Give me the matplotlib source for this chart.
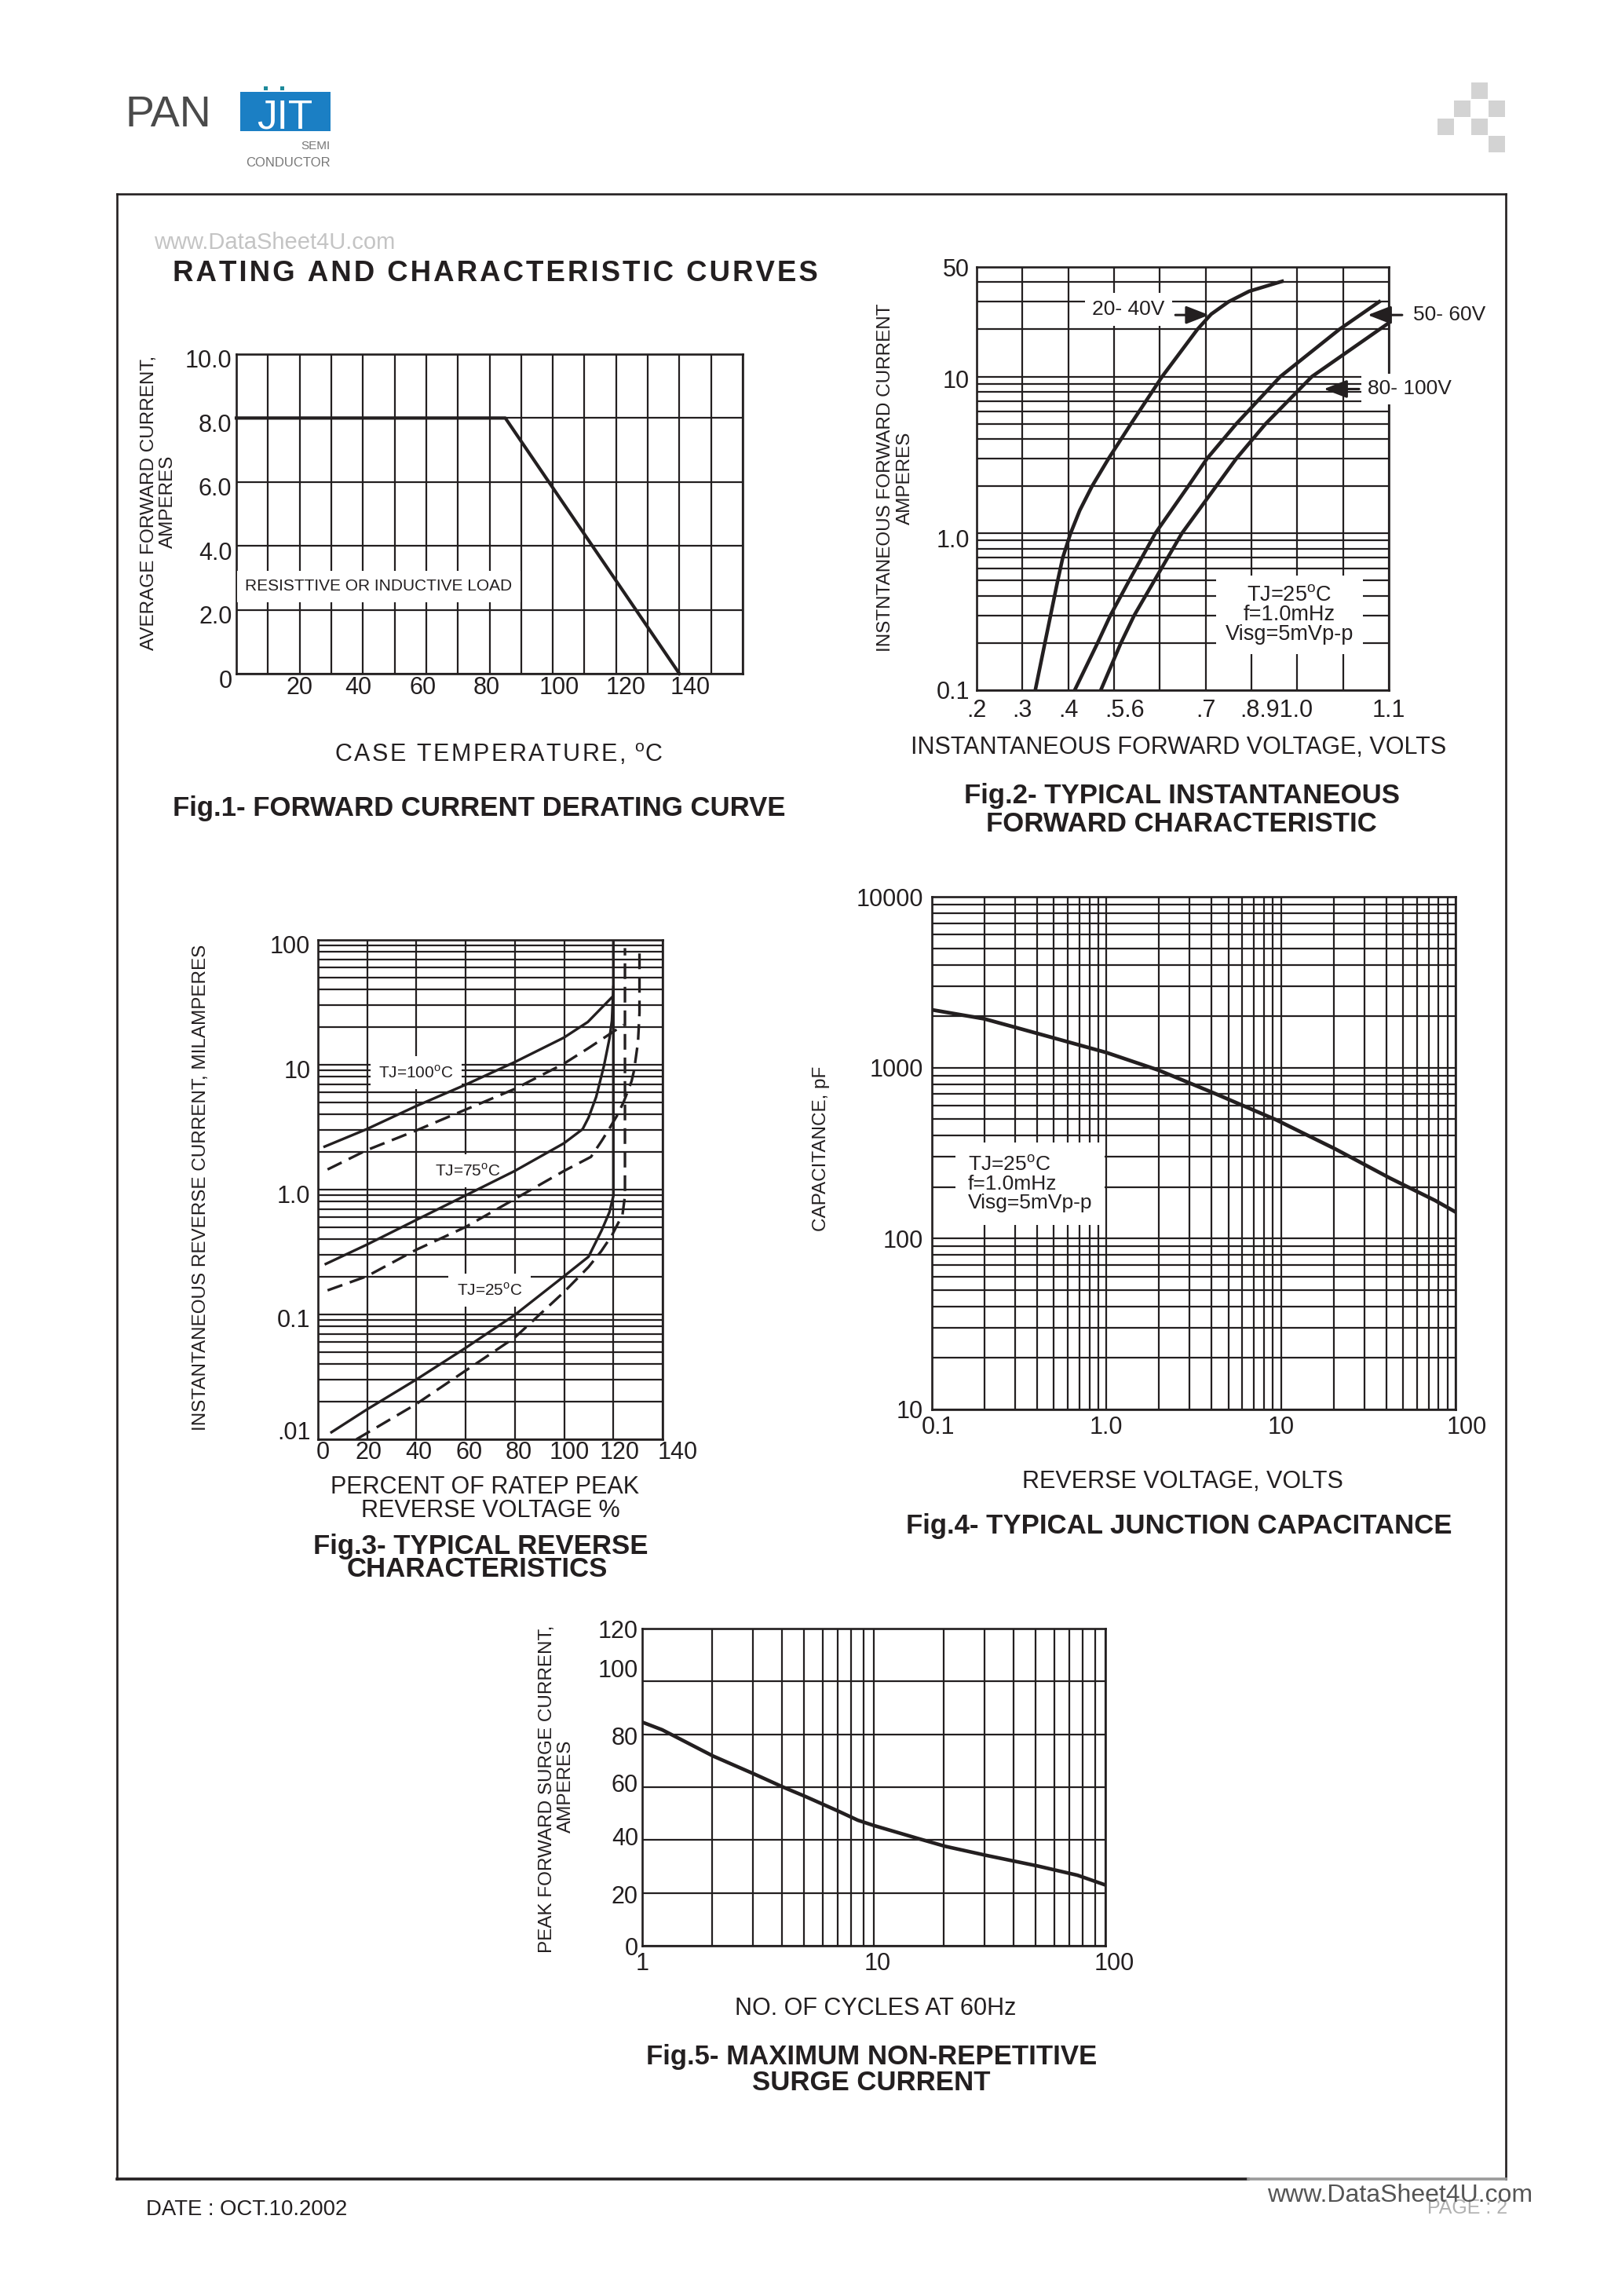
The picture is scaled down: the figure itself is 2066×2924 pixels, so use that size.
import numpy as np
import matplotlib
matplotlib.use("Agg")
import matplotlib.pyplot as plt
from matplotlib.lines import Line2D
from matplotlib.patches import Rectangle
from matplotlib.ticker import FixedLocator, LogLocator, NullFormatter
from matplotlib.transforms import ScaledTranslation

W, H = 2066, 2924
DPI = 100
INK = "#231f20"

plt.rcParams["font.family"] = ["Liberation Sans", "DejaVu Sans"]
plt.rcParams["mathtext.fontset"] = "custom"
plt.rcParams["mathtext.rm"] = "Liberation Sans"
DEG = r"$^{\mathregular{o}}$"
HAIR = "\u200a"

# ── Fig.1 forward current derating ───────────────────────────────────
fig1_temp = [0, 85, 140]
fig1_amps = [8.0, 8.0, 0.0]
fig1_xtick_pos = [20, 38.5, 59, 79, 102, 123, 143.5]
fig1_xtick_lab = ["20", "40", "60", "80", "100", "120", "140"]
fig1_ytick_pos = [0, 2, 4, 6, 8, 10]
fig1_ytick_lab = ["0", "2.0", "4.0", "6.0", "8.0", "10.0"]

# ── Fig.2 forward characteristic (volts, amps) ───────────────────────
fig2_amps_2040 = [0.1, 0.2, 0.5, 0.7, 1, 1.4, 2, 3, 5, 10, 20, 25, 30, 35, 40.5]
fig2_volt_2040 = [0.328, 0.349, 0.377, 0.388, 0.405, 0.425, 0.452, 0.488, 0.537,
                  0.605, 0.682, 0.712, 0.750, 0.795, 0.867]
fig2_amps_5060 = [0.1, 0.2, 0.3, 0.5, 1, 2, 3, 5, 10, 20, 30]
fig2_volt_5060 = [0.414, 0.464, 0.492, 0.533, 0.590, 0.662, 0.703, 0.767,
                  0.863, 0.992, 1.079]
fig2_amps_80100 = [0.1, 0.2, 0.3, 0.5, 1, 2, 3, 5, 10, 22]
fig2_volt_80100 = [0.471, 0.515, 0.544, 0.588, 0.648, 0.723, 0.767, 0.831,
                   0.932, 1.1]
fig2_xtick_pos = [0.2, 0.3, 0.4, 0.524, 0.7, 0.854, 1.1]
fig2_xtick_lab = [".2", ".3", ".4", ".5.6", ".7", ".8.91.0", "1.1"]
fig2_ytick_pos = [50, 9.7, 0.93, 0.1]
fig2_ytick_lab = ["50", "10", "1.0", "0.1"]

# ── Fig.3 reverse characteristics (% of rated PIV, mA) ───────────────
fig3_pct_100s = [2.7, 19.8, 39.8, 59.8, 79.9, 99.9, 109.6, 119.4]
fig3_ma_100s = [2.21, 3.05, 4.66, 6.9, 10.5, 16.5, 22.0, 34.7]
fig3_pct_100d = [3.9, 19.8, 39.8, 59.8, 79.9, 99.9, 109.9, 124.2]
fig3_ma_100d = [1.45, 2.07, 2.97, 4.36, 6.4, 10.2, 13.6, 20.9]
fig3_pct_75s = [3.2, 19.8, 39.8, 59.8, 79.9, 99.9, 107.5, 109.9, 113.0, 116.2,
                118.4, 119.4, 120.0]
fig3_ma_75s = [0.254, 0.362, 0.57, 0.895, 1.41, 2.35, 3.05, 3.77, 5.52, 9.86,
               16.2, 22.5, 42]
fig3_pct_75d = [3.9, 19.8, 39.8, 59.8, 79.9, 99.9, 110.9, 115.2, 118.4, 121.6,
                124.2, 125.8, 127.4, 128.4, 130.0, 130.6, 130.6]
fig3_ma_75d = [0.156, 0.202, 0.329, 0.50, 0.84, 1.41, 1.83, 2.45, 3.09, 3.95,
               5.05, 6.1, 7.4, 9.0, 15.2, 26, 86]
fig3_pct_25s = [5.5, 19.8, 39.8, 59.8, 79.9, 99.9, 109.9, 115.2, 118.4, 120.0, 120.0]
fig3_ma_25s = [0.0114, 0.0173, 0.030, 0.0537, 0.099, 0.202, 0.29, 0.47, 0.66,
               0.89, 100]
fig3_pct_25d = [15.6, 39.8, 59.8, 79.9, 99.9, 109.9, 115.0, 119.4, 123.7, 124.7, 124.7]
fig3_ma_25d = [0.01, 0.0191, 0.0353, 0.0652, 0.151, 0.24, 0.32, 0.43, 0.63, 0.89, 86]
fig3_xtick_pos = [2, 20.5, 41, 61.5, 81.5, 102, 122.5, 140]
fig3_xtick_lab = ["0", "20", "40", "60", "80", "100", "120", "140"]
fig3_ytick_pos = [92, 9.2, 0.93, 0.094, 0.0118]
fig3_ytick_lab = ["100", "10", "1.0", "0.1", ".01"]

# ── Fig.4 junction capacitance ───────────────────────────────────────
fig4_volts = [0.1, 0.199, 0.293, 0.502, 1.0, 1.99, 4.07, 9.42, 20.5, 42, 76.4, 100]
fig4_pf = [2180, 1931, 1733, 1489, 1225, 966, 714, 494, 334, 226, 167, 143]
fig4_xtick_pos = [0.1, 1.0, 10, 100]
fig4_xtick_lab = ["0.1", "1.0", "10", "100"]
fig4_ytick_pos = [10000, 1000, 100, 10]
fig4_ytick_lab = ["10000", "1000", "100", "10"]

# ── Fig.5 surge current ──────────────────────────────────────────────
fig5_cycles = [1, 1.22, 2.02, 3.06, 4.09, 5.09, 7.0, 8.53, 10, 15.5, 20.4,
               30.6, 50.9, 75.7, 100]
fig5_amps = [84.6, 81.7, 71.8, 64.9, 59.9, 56.4, 51.0, 47.5, 45.5, 40.6,
             37.6, 34.2, 30.2, 26.7, 23.0]
fig5_xtick_pos = [1, 10.4, 100]
fig5_xtick_lab = ["1", "10", "100"]
fig5_ytick_pos = [0, 19.5, 41.5, 61.5, 79.5, 105, 120]
fig5_ytick_lab = ["0", "20", "40", "60", "80", "100", "120"]

fig = plt.figure(figsize=(W / DPI, H / DPI), dpi=DPI)
fig.patch.set_facecolor("white")


def spaced(s):
    # datasheet headings are letter-spaced; hair spaces mimic the tracking
    return HAIR.join(s)


def px_axes(left, top, right, bottom):
    return fig.add_axes([left / W, 1 - bottom / H, (right - left) / W, (bottom - top) / H])


def ftext(x, y, s, **kw):
    kw.setdefault("color", INK)
    return fig.text(x / W, 1 - y / H, s, **kw)


def fline(xs, ys, **kw):
    fig.add_artist(Line2D([x / W for x in xs], [1 - y / H for y in ys],
                          transform=fig.transFigure, **kw))


def frame_axes(ax):
    for sp in ax.spines.values():
        sp.set_linewidth(1.9)
        sp.set_color(INK)
    ax.tick_params(which="both", length=0, labelsize=22, colors=INK)
    ax.xaxis.remove_overlapping_locs = False
    ax.yaxis.remove_overlapping_locs = False
    ax.set_axisbelow(True)


def grid_on(ax):
    ax.xaxis.set_minor_formatter(NullFormatter())
    ax.yaxis.set_minor_formatter(NullFormatter())
    ax.grid(which="minor", color=INK, lw=1.6)
    ax.grid(which="major", visible=False)


def nudge(labels, dx=0, dy=0):
    off = ScaledTranslation(dx / DPI, dy / DPI, fig.dpi_scale_trans)
    for lab in labels:
        lab.set_transform(lab.get_transform() + off)


def log_grid():
    return LogLocator(base=10, subs=np.arange(1, 10), numticks=40)


white = dict(fc="white", ec="none")
XLAB = 22
TITLE = 25

# ── page furniture ───────────────────────────────────────────────────
fline([148.5, 1917.5], [247, 247], color=INK, lw=1.9)
fline([148.5, 148.5], [247, 2775], color=INK, lw=1.9)
fline([1917.5, 1917.5], [247, 2775], color=INK, lw=1.9)
fline([148.5, 1590], [2775, 2775], color=INK, lw=2.6)
fline([1590, 1917.5], [2775, 2775], color="#9a9a9a", lw=2.6)

ftext(159, 161, "PAN", fontsize=40, color="#4a4a4a", ha="left", va="baseline")
fig.add_artist(Rectangle((306 / W, 1 - 167 / H), 115 / W, 50 / H,
                         transform=fig.transFigure, fc="#1b7fc4", ec="none"))
ftext(363, 163, "JIT", fontsize=37, color="white", ha="center", va="baseline")
for dx in (336, 357):
    fig.add_artist(Rectangle((dx / W, 1 - 115 / H), 5 / W, 5 / H,
                             transform=fig.transFigure, fc="#1d8a9a", ec="none"))
ftext(421, 190, "SEMI", fontsize=11, color="#777777", ha="right", va="baseline")
ftext(421, 212, "CONDUCTOR", fontsize=12, color="#777777", ha="right", va="baseline")

for x0, y0 in [(1874, 105), (1852, 128), (1896, 128), (1831, 151), (1874, 151), (1896, 173)]:
    fig.add_artist(Rectangle((x0 / W, 1 - (y0 + 21) / H), 21 / W, 21 / H,
                             transform=fig.transFigure, fc="#d3d3d3", ec="none"))

ftext(196, 309, "www.DataSheet4U.com", fontsize=21, color="#c4c4c4", ha="left", va="center")
ftext(220, 348, spaced("RATING AND CHARACTERISTIC CURVES"), fontsize=26.4, weight="bold",
      ha="left", va="center")
ftext(186, 2814, "DATE : OCT.10.2002", fontsize=19.8, ha="left", va="center")
ftext(1920, 2812, "PAGE : 2", fontsize=18, color="#b0b0b0", ha="right", va="center")
ftext(1952, 2796, "www.DataSheet4U.com", fontsize=23, color="#555555", ha="right", va="center")

# ── Fig.1 ────────────────────────────────────────────────────────────
ax1 = px_axes(301, 451, 946, 858)
ax1.set_xlim(0, 160)
ax1.set_ylim(0, 10)
frame_axes(ax1)
ax1.xaxis.set_minor_locator(FixedLocator(np.arange(0, 161, 10)))
ax1.yaxis.set_minor_locator(FixedLocator(np.arange(0, 11, 2)))
grid_on(ax1)
ax1.set_xticks(fig1_xtick_pos, fig1_xtick_lab)
ax1.set_yticks(fig1_ytick_pos, fig1_ytick_lab)
ax1.tick_params(axis="x", pad=2.5)
ax1.tick_params(axis="y", pad=4)
nudge(ax1.get_yticklabels(), dy=-6)
ax1.plot(fig1_temp, fig1_amps, color=INK, lw=3.0, zorder=4, clip_on=False)
ax1.text(2.8, 2.73, "RESISTTIVE OR INDUCTIVE LOAD", fontsize=15, ha="left",
         va="center", color=INK, bbox=dict(boxstyle="square,pad=0.5", **white))
ftext(190, 640, "AVERAGE FORWARD CURRENT,", fontsize=17.5, rotation=90, ha="center", va="center")
ftext(214, 639, "AMPERES", fontsize=17.5, rotation=90, ha="center", va="center")
ftext(635, 961, spaced("CASE TEMPERATURE, ") + DEG + "C", fontsize=XLAB, ha="center", va="center")
ftext(220, 1029, "Fig.1- FORWARD CURRENT DERATING CURVE", fontsize=TITLE, weight="bold",
      ha="left", va="center")

# ── Fig.2 ────────────────────────────────────────────────────────────
ax2 = px_axes(1244, 340, 1769, 879)
ax2.set_yscale("log")
ax2.set_xlim(0.2, 1.1)
ax2.set_ylim(0.1, 50)
frame_axes(ax2)
ax2.xaxis.set_minor_locator(FixedLocator(np.arange(2, 12) / 10))
ax2.yaxis.set_minor_locator(log_grid())
grid_on(ax2)
ax2.set_xticks(fig2_xtick_pos, fig2_xtick_lab)
ax2.set_yticks(fig2_ytick_pos, fig2_ytick_lab)
ax2.tick_params(axis="x", pad=8)
ax2.tick_params(axis="y", pad=6.5)
for v, a in [(fig2_volt_2040, fig2_amps_2040), (fig2_volt_5060, fig2_amps_5060),
             (fig2_volt_80100, fig2_amps_80100)]:
    ax2.plot(v, a, color=INK, lw=3.3, zorder=4, solid_joinstyle="round")
arrow = dict(arrowstyle="-|>,head_length=0.9,head_width=0.35", lw=2.2, color=INK,
             shrinkA=0, shrinkB=0, mutation_scale=20)
ax2.text(0.531, 26.8, "20- 40V", fontsize=19, ha="center", va="center", color=INK,
         bbox=dict(boxstyle="square,pad=0.35", **white))
ax2.annotate("", xy=(0.7076, 24.7), xytext=(0.634, 24.7), arrowprops=arrow)
ax2.text(1.232, 24.7, "50- 60V", fontsize=19, ha="center", va="center", color=INK)
ax2.annotate("", xy=(1.054, 24.7), xytext=(1.129, 24.7), arrowprops=arrow,
             annotation_clip=False)
ax2.text(1.146, 8.33, "80- 100V", fontsize=19, ha="center", va="center", color=INK,
         zorder=5, bbox=dict(boxstyle="square,pad=0.3", **white))
ax2.annotate("", xy=(0.958, 8.33), xytext=(1.035, 8.33), arrowprops=arrow)
ax2.text(0.883, 0.303, "TJ=25" + DEG + "C\nf=1.0mHz\nVisg=5mVp-p", fontsize=19.5,
         ha="center", va="center", color=INK, linespacing=0.95,
         bbox=dict(boxstyle="square,pad=0.45", **white))
ftext(1128, 608, "INSTNTANEOUS FORWARD CURRENT", fontsize=17.5, rotation=90, ha="center", va="center")
ftext(1153, 609, "AMPERES", fontsize=17.5, rotation=90, ha="center", va="center")
ftext(1501, 952, "INSTANTANEOUS FORWARD VOLTAGE, VOLTS", fontsize=XLAB, ha="center", va="center")
ftext(1505, 1014, "Fig.2- TYPICAL INSTANTANEOUS", fontsize=TITLE, weight="bold", ha="center", va="center")
ftext(1505, 1050, "FORWARD CHARACTERISTIC", fontsize=TITLE, weight="bold", ha="center", va="center")

# ── Fig.3 ────────────────────────────────────────────────────────────
ax3 = px_axes(405, 1197, 844, 1833)
ax3.set_yscale("log")
ax3.set_xlim(0, 140)
ax3.set_ylim(0.01, 100)
frame_axes(ax3)
ax3.xaxis.set_minor_locator(FixedLocator(np.arange(0, 141, 20)))
ax3.yaxis.set_minor_locator(log_grid())
grid_on(ax3)
ax3.set_xticks(fig3_xtick_pos, fig3_xtick_lab)
ax3.set_yticks(fig3_ytick_pos, fig3_ytick_lab)
ax3.tick_params(axis="x", pad=1.5)
ax3.tick_params(axis="y", pad=7)
nudge(ax3.get_xticklabels()[-1:], dx=19)
dash = (0, (6, 3))
ax3.plot(fig3_pct_100s, fig3_ma_100s, color=INK, lw=2.4, zorder=4)
ax3.plot(fig3_pct_100d, fig3_ma_100d, color=INK, lw=2.4, ls=dash, zorder=4)
ax3.plot(fig3_pct_75s, fig3_ma_75s, color=INK, lw=2.4, zorder=4)
ax3.plot(fig3_pct_75d, fig3_ma_75d, color=INK, lw=2.4, ls=dash, zorder=4)
ax3.plot(fig3_pct_25s, fig3_ma_25s, color=INK, lw=2.4, zorder=4)
ax3.plot(fig3_pct_25d, fig3_ma_25d, color=INK, lw=2.4, ls=dash, zorder=4)
for x, y, t in [(39.8, 8.65, "TJ=100"), (60.8, 1.415, "TJ=75"), (69.7, 0.157, "TJ=25")]:
    ax3.text(x, y, t + DEG + "C", fontsize=15, ha="center", va="center", color=INK,
             bbox=dict(boxstyle="square,pad=0.5", **white))
ftext(256, 1512, "INSTANTANEOUS REVERSE CURRENT, MILAMPERES", fontsize=17.5, rotation=90,
      ha="center", va="center")
ftext(618, 1894, "PERCENT OF RATEP PEAK", fontsize=XLAB, ha="center", va="center")
ftext(625, 1924, "REVERSE VOLTAGE %", fontsize=XLAB, ha="center", va="center")
ftext(612, 1969, "Fig.3- TYPICAL REVERSE", fontsize=TITLE, weight="bold", ha="center", va="center")
ftext(608, 1999, "CHARACTERISTICS", fontsize=TITLE, weight="bold", ha="center", va="center")

# ── Fig.4 ────────────────────────────────────────────────────────────
ax4 = px_axes(1187, 1142, 1854, 1795)
ax4.set_xscale("log")
ax4.set_yscale("log")
ax4.set_xlim(0.1, 100)
ax4.set_ylim(10, 10000)
frame_axes(ax4)
ax4.xaxis.set_minor_locator(log_grid())
ax4.yaxis.set_minor_locator(log_grid())
grid_on(ax4)
ax4.set_xticks(fig4_xtick_pos, fig4_xtick_lab)
ax4.set_yticks(fig4_ytick_pos, fig4_ytick_lab)
ax4.tick_params(axis="x", pad=6)
ax4.tick_params(axis="y", pad=8)
nudge(ax4.get_xticklabels()[:1], dx=8)
nudge(ax4.get_xticklabels()[-1:], dx=14)
ax4.plot(fig4_volts, fig4_pf, color=INK, lw=3.4, zorder=4)
ax4.text(0.1603, 209.5, "TJ=25" + DEG + "C\nf=1.0mHz\nVisg=5mVp-p", fontsize=19,
         ha="left", va="center", color=INK, linespacing=1.0,
         bbox=dict(boxstyle="square,pad=0.6", **white))
ftext(1046, 1463, "CAPACITANCE, pF", fontsize=17.5, rotation=90, ha="center", va="center")
ftext(1506, 1887, "REVERSE VOLTAGE, VOLTS", fontsize=XLAB, ha="center", va="center")
ftext(1502, 1943, "Fig.4- TYPICAL JUNCTION CAPACITANCE", fontsize=TITLE, weight="bold",
      ha="center", va="center")

# ── Fig.5 ────────────────────────────────────────────────────────────
ax5 = px_axes(818, 2074, 1408, 2478)
ax5.set_xscale("log")
ax5.set_xlim(1, 100)
ax5.set_ylim(0, 120)
frame_axes(ax5)
ax5.xaxis.set_minor_locator(log_grid())
ax5.yaxis.set_minor_locator(FixedLocator(np.arange(0, 121, 20)))
grid_on(ax5)
ax5.set_xticks(fig5_xtick_pos, fig5_xtick_lab)
ax5.set_yticks(fig5_ytick_pos, fig5_ytick_lab)
ax5.tick_params(axis="x", pad=5.5)
ax5.tick_params(axis="y", pad=3.6)
nudge(ax5.get_xticklabels()[-1:], dx=11)
ax5.plot(fig5_cycles, fig5_amps, color=INK, lw=3.3, zorder=4)
ftext(697, 2278, "PEAK FORWARD SURGE CURRENT,", fontsize=17.5, rotation=90, ha="center", va="center")
ftext(721, 2275, "AMPERES", fontsize=17.5, rotation=90, ha="center", va="center")
ftext(1115, 2558, "NO. OF CYCLES AT 60Hz", fontsize=XLAB, ha="center", va="center")
ftext(1110, 2620, "Fig.5- MAXIMUM NON-REPETITIVE", fontsize=TITLE, weight="bold", ha="center", va="center")
ftext(1110, 2653, "SURGE CURRENT", fontsize=TITLE, weight="bold", ha="center", va="center")

fig.savefig("out.png", dpi=DPI, facecolor="white")
